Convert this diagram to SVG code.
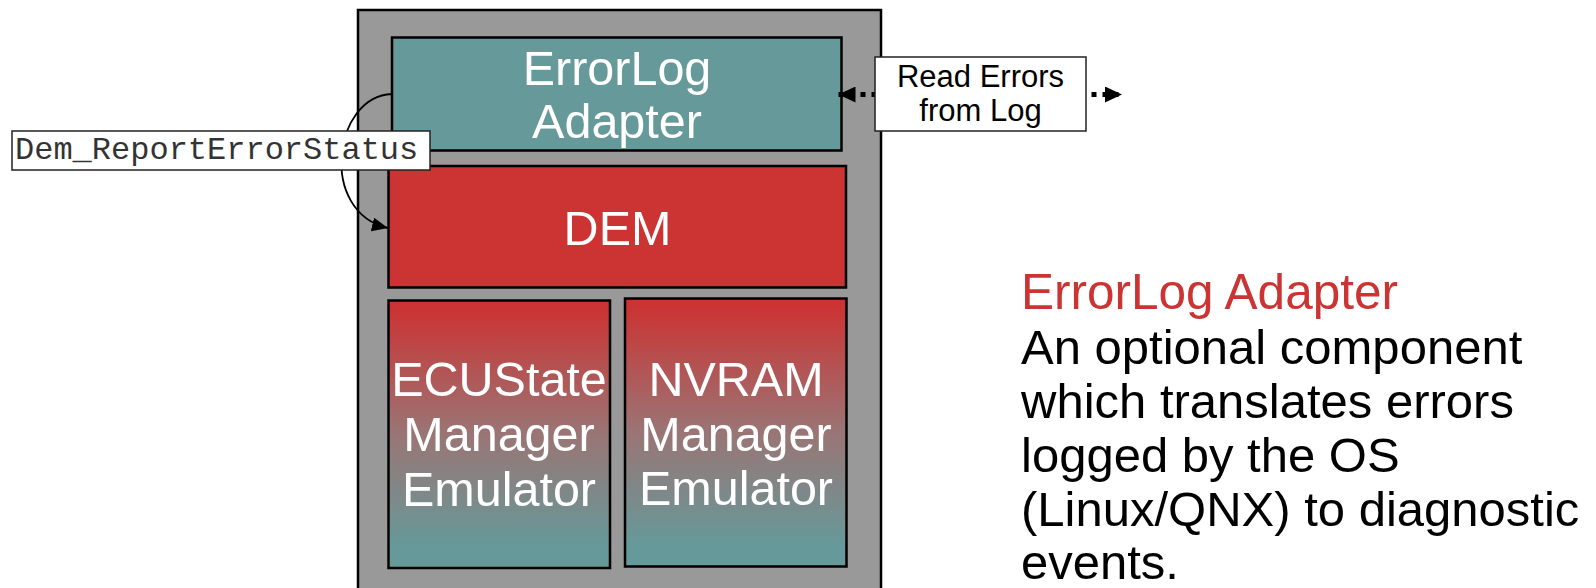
<svg xmlns="http://www.w3.org/2000/svg" width="1596" height="588" viewBox="0 0 1596 588">
  <style>
    .box { stroke: #000; stroke-width: 2.5; }
    .teal { fill: #669999; }
    .red { fill: #cc3333; }
    .grad { fill: url(#rt); }
    .wt { font-family: "Liberation Sans", Arial, sans-serif; font-size: 48.5px; fill: #fff; text-anchor: middle; }
    .lbl { fill: #fff; stroke: #222; stroke-width: 1.5; }
    .mono { font-family: "Liberation Mono", "Courier New", monospace; font-size: 32px; fill: #333; }
    .sans { font-family: "Liberation Sans", Arial, sans-serif; }
    .desc { font-family: "Liberation Sans", Arial, sans-serif; font-size: 49px; fill: #000; }
  </style>
  <defs>
    <linearGradient id="rt" x1="0" y1="0" x2="0" y2="1">
      <stop offset="0.03" stop-color="#cc3333"/>
      <stop offset="0.5" stop-color="#9a7575"/>
      <stop offset="0.92" stop-color="#669999"/>
    </linearGradient>
    <marker id="ah" markerUnits="userSpaceOnUse" markerWidth="18" markerHeight="16" refX="16" refY="7" orient="auto">
      <path d="M0,0 L16,7 L0,14 Z" fill="#000"/>
    </marker>
    <marker id="ahd" markerUnits="userSpaceOnUse" markerWidth="18" markerHeight="16" refX="17" refY="8" orient="auto-start-reverse">
      <path d="M0,0 L17,8 L0,16 Z" fill="#000"/>
    </marker>
  </defs>

  <rect x="0" y="0" width="1596" height="588" fill="#fff"/>

  <g id="container">
    <rect x="358" y="10" width="523" height="600" fill="#999999" stroke="#000" stroke-width="2.5"/>
  </g>

  <g id="errorlog-adapter">
    <rect class="box teal" x="392" y="37.5" width="449.5" height="113"/>
    <text class="wt" x="617" y="85">ErrorLog</text>
    <text class="wt" x="617" y="138">Adapter</text>
  </g>

  <g id="dem">
    <rect class="box red" x="388.5" y="166" width="457.5" height="121.5"/>
    <text class="wt" x="617.5" y="245">DEM</text>
  </g>

  <g id="ecustate-manager-emulator">
    <rect class="box grad" x="388.5" y="300.5" width="221.5" height="267.5"/>
    <text class="wt" x="499" y="396">ECUState</text>
    <text class="wt" x="499" y="451">Manager</text>
    <text class="wt" x="499" y="506">Emulator</text>
  </g>

  <g id="nvram-manager-emulator">
    <rect class="box grad" x="625" y="298.5" width="221.5" height="268"/>
    <text class="wt" x="736" y="396">NVRAM</text>
    <text class="wt" x="736" y="451">Manager</text>
    <text class="wt" x="736" y="505">Emulator</text>
  </g>

  <g id="connectors">
    <path d="M392,94 C333,96 318,212 388,228" fill="none" stroke="#000" stroke-width="1.8" marker-end="url(#ah)"/>
    <rect class="lbl" x="12" y="131" width="418" height="39"/>
    <text class="mono" x="15" y="159">Dem_ReportErrorStatus</text>

    <line x1="838.5" y1="94.5" x2="1122" y2="94.5" stroke="#000" stroke-width="5" stroke-dasharray="5 6" marker-start="url(#ahd)" marker-end="url(#ahd)"/>
    <rect class="lbl" x="875" y="57" width="211" height="74" stroke-width="2"/>
    <text class="sans" x="980.5" y="87" font-size="31" text-anchor="middle" fill="#000">Read Errors</text>
    <text class="sans" x="980.5" y="121" font-size="31" text-anchor="middle" fill="#000">from Log</text>
  </g>

  <g id="description">
    <text class="sans" x="1021" y="309" font-size="49.5" fill="#cc3333">ErrorLog Adapter</text>
    <text class="desc" x="1021" y="364">An optional component</text>
    <text class="desc" x="1021" y="418">which translates errors</text>
    <text class="desc" x="1021" y="472">logged by the OS</text>
    <text class="desc" x="1021" y="526">(Linux/QNX) to diagnostic</text>
    <text class="desc" x="1021" y="579">events.</text>
  </g>
</svg>
